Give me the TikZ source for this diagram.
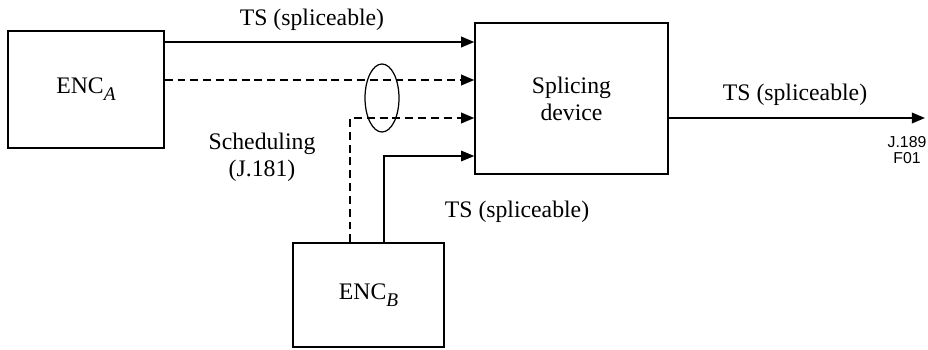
\documentclass[tikz,border=0pt]{standalone}
\usepackage{fontspec}
\setmainfont{Liberation Serif}
\newfontfamily\figsans{Liberation Sans}
\usepackage{tikz}
\usetikzlibrary{positioning,arrows.meta,shapes.geometric}
\newcommand{\encsub}[1]{\raisebox{-4pt}{\fontsize{11}{11}\selectfont\itshape #1}}
\tikzset{
  flowarrow/.style={-{Triangle[length=7.5pt,width=6pt]}, line width=1.1pt},
  thinarrow/.style={-{Triangle[length=7.5pt,width=6pt]}, line width=0.7pt},
  dashflow/.style={-{Triangle[length=7.5pt,width=6pt]}, line width=1.1pt, dash pattern=on 4.5pt off 2.8pt},
  blocknode/.style={draw, line width=0.8pt, align=center},
  groupring/.style={draw, ellipse, line width=0.7pt, inner sep=0pt, minimum width=0.68cm, minimum height=1.36cm},
  tslabel/.style={align=center, inner sep=1pt},
  figref/.style={font=\figsans\fontsize{9}{9.5}\selectfont, align=center}
}

\begin{document}
\begin{tikzpicture}[x=0.02cm, y=-0.02cm, every node/.style={font=\fontsize{13.5}{15.5}\selectfont}]
      \useasboundingbox (0,0) rectangle (928,349);
      \node[blocknode, minimum width=3.12cm, minimum height=2.34cm] (enca) at (86,89.5) {ENC\encsub{A}};
      \node[blocknode, minimum width=3.86cm, minimum height=3.02cm] (splice) at (571.5,98.5) {Splicing\\device};
      \node[blocknode, minimum width=3.02cm, minimum height=2.08cm] (encb) at (368.5,295) {ENC\encsub{B}};
      \node[groupring] (grp) at (382,98) {};
      % heights of the four inputs
      \coordinate (tsa) at (0,42);
      \coordinate (scha) at (0,80);
      \coordinate (schb) at (350,118);
      \coordinate (tsb) at (384,156);
      \coordinate (out) at (925,118);
      \draw[flowarrow] (enca.east |- tsa) -- (splice.west |- tsa);
      \draw[dashflow] (enca.east |- scha) -- (splice.west |- scha);
      \draw[dashflow] (encb.north -| schb) |- (splice.west |- schb);
      \draw[thinarrow] (encb.north -| tsb) |- (splice.west |- tsb);
      \draw[flowarrow] (splice.east |- out) -- (out);
      \node[tslabel] (lbla) at (312,20) {TS (spliceable)};
      \node[tslabel] (lblsch) at (262,157) {Scheduling\\(J.181)};
      \node[tslabel] (lblb) at (517,212) {TS (spliceable)};
      \node[tslabel] (lblout) at (795,95) {TS (spliceable)};
      \node[figref] (ref) at (907,150) {J.189\\F01};
    \end{tikzpicture}
\end{document}
